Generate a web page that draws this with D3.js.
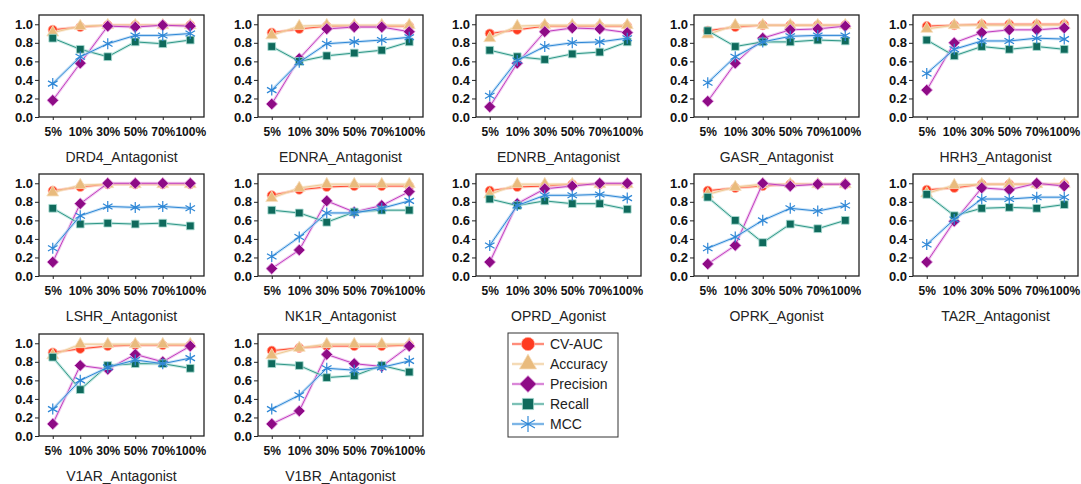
<!DOCTYPE html>
<html>
<head>
<meta charset="utf-8">
<script src="https://cdn.jsdelivr.net/npm/d3@7"></script>
<style>
  body { margin: 0; background: #fff; }
  text { font-family: "Liberation Sans", Arial, sans-serif; }
</style>
</head>
<body>
<script>
var width = 1081,
    height = 484;

// data
var categories = ["5%", "10%", "30%", "50%", "70%", "100%"];

var panelNames = ["DRD4_Antagonist", "EDNRA_Antagonist", "EDNRB_Antagonist", "GASR_Antagonist", "HRH3_Antagonist",
                  "LSHR_Antagonist", "NK1R_Antagonist", "OPRD_Agonist", "OPRK_Agonist", "TA2R_Antagonist",
                  "V1AR_Antagonist", "V1BR_Antagonist"];

var metricNames = ["CV-AUC", "Accuracy", "Precision", "Recall", "MCC"];

var cvAuc = [
  [0.94, 0.97, 0.99, 0.99, 0.99, 0.99],
  [0.91, 0.95, 0.98, 0.98, 0.98, 0.98],
  [0.90, 0.94, 0.98, 0.98, 0.98, 0.98],
  [0.93, 0.97, 0.99, 0.99, 0.99, 0.99],
  [0.98, 0.99, 1.00, 1.00, 1.00, 1.00],
  [0.92, 0.96, 0.99, 0.99, 0.99, 0.99],
  [0.87, 0.93, 0.96, 0.97, 0.97, 0.97],
  [0.92, 0.96, 0.97, 0.99, 0.99, 0.99],
  [0.92, 0.95, 0.97, 0.99, 0.99, 0.99],
  [0.93, 0.95, 0.99, 0.99, 0.99, 0.99],
  [0.90, 0.94, 0.97, 0.98, 0.98, 0.98],
  [0.92, 0.95, 0.97, 0.97, 0.97, 0.98]
];

var accuracy = [
  [0.91, 0.98, 0.99, 0.99, 0.99, 0.99],
  [0.88, 0.98, 0.99, 0.99, 0.99, 0.99],
  [0.85, 0.98, 0.99, 0.99, 0.99, 0.99],
  [0.89, 0.99, 0.99, 0.99, 0.99, 0.99],
  [0.95, 0.99, 0.99, 0.99, 0.99, 0.99],
  [0.90, 0.98, 0.99, 0.99, 0.99, 0.99],
  [0.84, 0.95, 0.99, 0.99, 0.99, 0.99],
  [0.88, 0.99, 0.99, 0.99, 0.99, 0.99],
  [0.88, 0.96, 0.99, 0.99, 0.99, 0.99],
  [0.89, 0.98, 0.99, 0.99, 0.99, 0.99],
  [0.87, 0.99, 0.99, 0.99, 0.99, 0.99],
  [0.87, 0.95, 0.99, 0.99, 0.99, 0.99]
];

var precision = [
  [0.18, 0.58, 0.98, 0.97, 0.99, 0.98],
  [0.14, 0.63, 0.95, 0.97, 0.97, 0.92],
  [0.11, 0.58, 0.92, 0.96, 0.95, 0.91],
  [0.17, 0.58, 0.85, 0.94, 0.95, 0.98],
  [0.29, 0.80, 0.91, 0.94, 0.94, 0.96],
  [0.15, 0.78, 1.00, 1.00, 1.00, 1.00],
  [0.08, 0.28, 0.81, 0.69, 0.76, 0.91],
  [0.15, 0.78, 0.94, 0.97, 1.00, 1.00],
  [0.13, 0.33, 1.00, 0.97, 0.99, 0.99],
  [0.15, 0.59, 0.95, 0.93, 1.00, 0.97],
  [0.13, 0.76, 0.72, 0.88, 0.80, 0.97],
  [0.13, 0.27, 0.88, 0.78, 0.75, 0.97]
];

var recall = [
  [0.85, 0.73, 0.65, 0.81, 0.79, 0.83],
  [0.76, 0.60, 0.66, 0.69, 0.72, 0.81],
  [0.72, 0.65, 0.62, 0.68, 0.70, 0.81],
  [0.93, 0.76, 0.81, 0.81, 0.83, 0.82],
  [0.83, 0.66, 0.76, 0.73, 0.76, 0.73],
  [0.73, 0.56, 0.57, 0.56, 0.57, 0.54],
  [0.71, 0.68, 0.58, 0.69, 0.71, 0.71],
  [0.83, 0.76, 0.81, 0.78, 0.78, 0.72],
  [0.85, 0.60, 0.36, 0.56, 0.51, 0.60],
  [0.88, 0.65, 0.73, 0.74, 0.73, 0.77],
  [0.85, 0.50, 0.76, 0.78, 0.78, 0.73],
  [0.78, 0.76, 0.63, 0.65, 0.76, 0.69]
];

var mcc = [
  [0.36, 0.65, 0.79, 0.88, 0.88, 0.90],
  [0.29, 0.59, 0.79, 0.81, 0.83, 0.86],
  [0.23, 0.61, 0.76, 0.80, 0.81, 0.85],
  [0.37, 0.65, 0.81, 0.87, 0.88, 0.88],
  [0.47, 0.73, 0.82, 0.82, 0.85, 0.84],
  [0.30, 0.65, 0.75, 0.74, 0.75, 0.73],
  [0.21, 0.42, 0.68, 0.68, 0.73, 0.81],
  [0.33, 0.76, 0.87, 0.87, 0.88, 0.84],
  [0.30, 0.42, 0.60, 0.73, 0.70, 0.76],
  [0.34, 0.61, 0.83, 0.83, 0.85, 0.85],
  [0.29, 0.60, 0.74, 0.82, 0.78, 0.84],
  [0.29, 0.44, 0.73, 0.71, 0.74, 0.81]
];

var yTicks = [0, 0.2, 0.4, 0.6, 0.8, 1.0];

// styling per metric
var asterisk = function(size) {
  var r = size;
  var c = r * Math.cos(Math.PI / 6), s = r * Math.sin(Math.PI / 6);
  return "M0," + (-r) + "L0," + r +
         "M" + (-c) + "," + (-s) + "L" + c + "," + s +
         "M" + (-c) + "," + s + "L" + c + "," + (-s);
};

var series = [
  {values: cvAuc,     fill: "#ff3b21", line: "#ff4a30", halo: "#ffb0a0",
   sym: function() { return d3.symbol(d3.symbolCircle, 66)(); }, rot: 0},
  {values: accuracy,  fill: "#e9bb7d", line: "#efc993", halo: "#f6e0c0",
   sym: function() { return d3.symbol(d3.symbolTriangle, 62)(); }, rot: 0},
  {values: precision, fill: "#8e0b86", line: "#c23ec0", halo: "#eab0e8",
   sym: function() { return d3.symbol(d3.symbolSquare, 68)(); }, rot: 45},
  {values: recall,    fill: "#0f6a5c", line: "#2f9787", halo: "#a9dcd3",
   sym: function() { return d3.symbol(d3.symbolSquare, 60)(); }, rot: 0},
  {values: mcc,       fill: "none",    line: "#2e87d6", halo: "#a8d0f2",
   sym: function() { return asterisk(5.5); }, rot: 0, stroke: "#2e87d6"}
];

var boxW = 165,
    boxH = 102;
var colX = [39, 258, 476, 694, 913],
    rowY = [15, 174, 334];

var x = d3.scalePoint().domain(categories).range([0, boxW]).padding(0.5);
var y = d3.scaleLinear().domain([0, 1.1]).range([boxH, 0]);

var line = d3.line()
    .x(function(d, j) { return x(categories[j]); })
    .y(function(d) { return y(d); });

var svg = d3.select("body").append("svg")
    .attr("width", width)
    .attr("height", height);

panelNames.forEach(function(name, i) {
  var g = svg.append("g")
      .attr("transform", "translate(" + colX[i % 5] + "," + rowY[Math.floor(i / 5)] + ")");

  var ya = g.append("g")
      .call(d3.axisLeft(y).tickValues(yTicks).tickFormat(d3.format(".1f")).tickSize(4).tickPadding(2));
  ya.selectAll("text").style("font-size", "13px").style("font-weight", "bold").attr("fill", "#111");

  var xa = g.append("g")
      .attr("transform", "translate(0," + boxH + ")")
      .call(d3.axisBottom(x).tickSize(3).tickPadding(7));
  xa.selectAll("text").style("font-size", "12px").style("font-weight", "bold").attr("fill", "#111");
  g.selectAll(".domain").remove();
  g.selectAll(".tick line").attr("stroke", "#222");

  g.append("rect")
      .attr("width", boxW)
      .attr("height", boxH)
      .attr("fill", "none")
      .attr("stroke", "#222")
      .attr("stroke-width", 1.3);

  series.forEach(function(s) {
    var vals = s.values[i];
    g.append("path").datum(vals)
        .attr("d", line)
        .attr("fill", "none")
        .attr("stroke", s.halo)
        .attr("stroke-width", 3)
        .attr("stroke-opacity", 0.6);
    g.append("path").datum(vals)
        .attr("d", line)
        .attr("fill", "none")
        .attr("stroke", s.line)
        .attr("stroke-width", 1);
    g.selectAll(null).data(vals).enter().append("path")
        .attr("transform", function(d, j) {
          return "translate(" + x(categories[j]) + "," + y(d) + ") rotate(" + s.rot + ")";
        })
        .attr("d", s.sym())
        .attr("fill", s.fill)
        .attr("stroke", s.stroke || s.halo)
        .attr("stroke-width", s.stroke ? 1.2 : 0.8);
  });

  g.append("text")
      .attr("x", boxW / 2)
      .attr("y", boxH + 45)
      .attr("text-anchor", "middle")
      .style("font-size", "14px")
      .attr("fill", "#222")
      .text(name);
});

// legend
var lg = svg.append("g").attr("transform", "translate(508,333)");
lg.append("rect")
    .attr("width", 110)
    .attr("height", 104)
    .attr("fill", "#fff")
    .attr("stroke", "#333")
    .attr("stroke-width", 1);

series.forEach(function(s, k) {
  var cy = 11 + k * 20;
  lg.append("line")
      .attr("x1", 4).attr("x2", 36).attr("y1", cy).attr("y2", cy)
      .attr("stroke", s.halo).attr("stroke-width", 3).attr("stroke-opacity", 0.6);
  lg.append("line")
      .attr("x1", 4).attr("x2", 36).attr("y1", cy).attr("y2", cy)
      .attr("stroke", s.line).attr("stroke-width", 1);
  lg.append("path")
      .attr("transform", "translate(20," + cy + ") rotate(" + s.rot + ") scale(1.45)")
      .attr("d", s.sym())
      .attr("fill", s.fill)
      .attr("stroke", s.stroke || s.halo)
      .attr("stroke-width", s.stroke ? 0.8 : 0.5);
  lg.append("text")
      .attr("x", 42)
      .attr("y", cy + 5)
      .style("font-size", "14px")
      .attr("fill", "#222")
      .text(metricNames[k]);
});
</script>
</body>
</html>
